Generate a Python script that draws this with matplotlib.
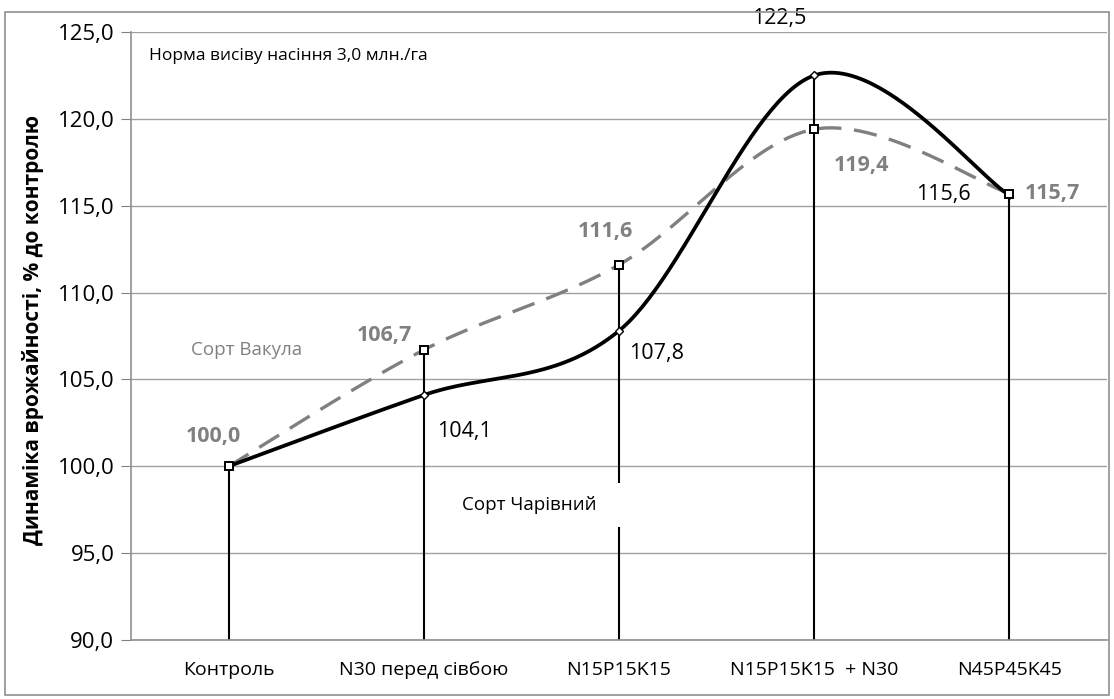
import numpy as np
import matplotlib
matplotlib.use("Agg")
import matplotlib.pyplot as plt
from matplotlib.patches import Rectangle

categories = ["Контроль", "N30 перед сівбою", "N15P15K15", "N15P15K15  + N30", "N45P45K45"]
charivnyi = [100.0, 104.1, 107.8, 122.5, 115.6]
vakula = [100.0, 106.7, 111.6, 119.4, 115.7]
yticks = [90, 95, 100, 105, 110, 115, 120, 125]

plt.rcParams['font.family'] = ['Open Sans', 'DejaVu Sans']

def smooth(xs, ys, n=60):
    xs = np.asarray(xs, float); ys = np.asarray(ys, float)
    P = np.column_stack([xs, ys])
    out = []
    m = len(P)
    for i in range(m - 1):
        p0 = P[i - 1] if i > 0 else P[i]
        p1 = P[i]; p2 = P[i + 1]
        p3 = P[i + 2] if i + 2 < m else P[i + 1]
        c1 = p1 + (p2 - p0) / 6.0
        c2 = p2 - (p3 - p1) / 6.0
        t = np.linspace(0, 1, n)[:, None]
        seg = (1 - t) ** 3 * p1 + 3 * (1 - t) ** 2 * t * c1 + 3 * (1 - t) * t ** 2 * c2 + t ** 3 * p2
        out.append(seg if i == 0 else seg[1:])
    s = np.vstack(out)
    return s[:, 0], s[:, 1]

fig = plt.figure(figsize=(11.14, 6.99), dpi=100)
ax = fig.add_axes([131 / 1114, 1 - 640 / 699, (1107 - 131) / 1114, (640 - 32) / 699])

x = np.arange(len(categories))
ax.set_xlim(-0.5, len(categories) - 0.5)
ax.set_ylim(90, 125)
ax.set_yticks(yticks)
ax.set_yticklabels([f"{v:.1f}".replace(".", ",") for v in yticks], fontsize=16)
ax.set_xticks(x)
ax.set_xticklabels(categories, fontsize=14)
ax.tick_params(axis='x', length=0, pad=15)
ax.tick_params(axis='y', length=7, color='#808080', pad=5)
ax.grid(axis='y', color='#a0a0a0', linewidth=1)
ax.set_axisbelow(True)
for s in ['top', 'right']:
    ax.spines[s].set_visible(False)
for s in ['left', 'bottom']:
    ax.spines[s].set_color('#909090')
    ax.spines[s].set_linewidth(1.2)

# drop lines
for xi, a, b in zip(x, charivnyi, vakula):
    ax.plot([xi, xi], [90, max(a, b)], color='black', lw=1.5, zorder=2)

sx, sy = smooth(x, vakula)
ax.plot(sx, sy, color='#808080', lw=2.4, dashes=(7, 3.8), zorder=4)

cx, cy = smooth(x, charivnyi)
ax.plot(cx, cy, color='black', lw=2.7, zorder=5)
ax.plot(x, charivnyi, ls='none', marker='D', ms=4, mfc='white', mec='black', mew=1.0, zorder=6)
ax.plot(x, vakula, ls='none', marker='s', ms=6, mfc='white', mec='black', mew=1.4, zorder=7)

fmt = lambda v: f"{v:.1f}".replace(".", ",")
# Vakula labels (gray bold)
voff = [(-0.08, 1.7), (-0.2, 0.8), (-0.07, 1.9), (0.24, -2.1), (0.22, 0.0)]
for xi, v, (dx, dy) in zip(x, vakula, voff):
    ax.text(xi + dx, v + dy, fmt(v), color='#808080', fontweight='bold', fontsize=15.5,
            ha='center', va='center', zorder=8)
# Charivnyi labels (black)
coff = [None, (0.21, -2.1), (0.19, -1.3), (-0.18, 3.3), (-0.34, 0.05)]
for xi, v, o in zip(x, charivnyi, coff):
    if o is None:
        continue
    ax.text(xi + o[0], v + o[1], fmt(v), color='black', fontsize=15.5,
            ha='center', va='center', zorder=8)

ax.text(0.09, 106.7, "Сорт Вакула", color='#808080', fontsize=13.5, ha='center', va='center')
ax.add_patch(Rectangle((1.16, 96.5), 0.87, 2.55, facecolor='white', edgecolor='none', zorder=3))
ax.text(1.54, 97.8, "Сорт Чарівний", color='black', fontsize=13.5, ha='center', va='center', zorder=3.5)
ax.text(-0.41, 123.6, "Норма висіву насіння 3,0 млн./га", color='black', fontsize=12.5,
        ha='left', va='center')

ax.set_ylabel("Динаміка врожайності, % до контролю", fontsize=15, fontweight='bold')
ax.yaxis.set_label_coords(-87 / 976, 0.51)

fig.patches.append(Rectangle((5 / 1114, 1 - 695 / 699), 1104 / 1114, 683 / 699,
                             transform=fig.transFigure, fill=False, edgecolor='#909090', lw=1.2))

fig.savefig("out.png", dpi=100)
